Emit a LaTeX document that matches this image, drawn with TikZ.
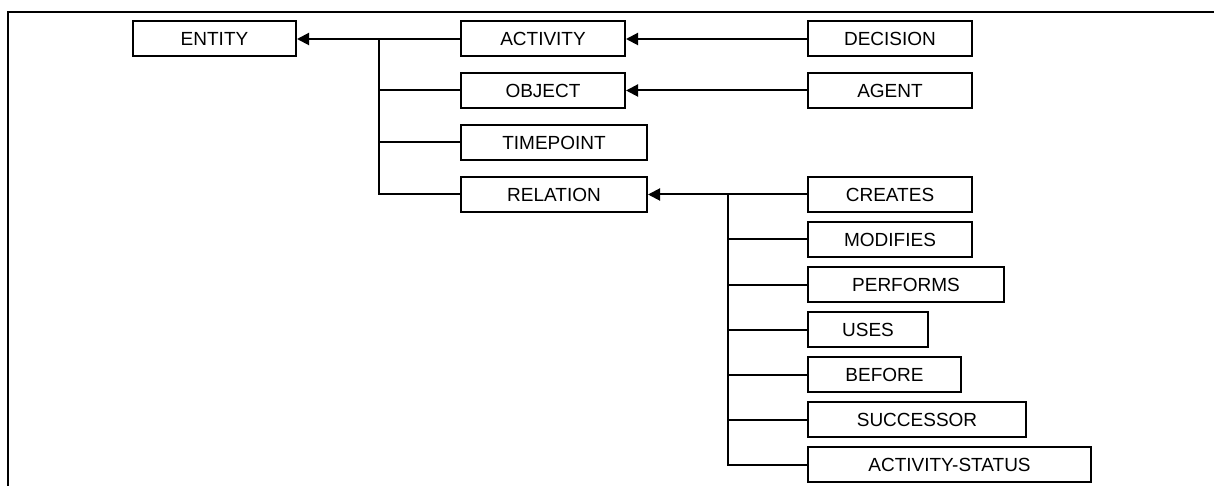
\documentclass[tikz,border=0pt]{standalone}
\usepackage{fontspec}
\setmainfont{Liberation Sans}
\usetikzlibrary{arrows.meta}
\begin{document}
\begin{tikzpicture}[x=1pt,y=-1pt,
  box/.style={draw=black,line width=2pt,fill=white,minimum height=35pt,inner sep=0pt,
    font=\fontsize{19}{21}\selectfont},
  conn/.style={line width=2pt},
  arrowconn/.style={line width=2pt,-{Triangle[length=12pt,width=12pt]}}]
\useasboundingbox (0,0) rectangle (1214,486);
% frame
\draw[line width=2pt] (8,486) -- (8,12) -- (1214,12);
% nodes
\node[box,minimum width=163pt] (entity) at (214.5,39) {ENTITY};
\node[box,minimum width=164pt] (activity) at (543,39) {ACTIVITY};
\node[box,minimum width=164pt] (object) at (543,90.5) {OBJECT};
\node[box,minimum width=186pt] (timepoint) at (554,142.5) {TIMEPOINT};
\node[box,minimum width=186pt] (relation) at (554,194.5) {RELATION};
\node[box,minimum width=164pt] (decision) at (890,39) {DECISION};
\node[box,minimum width=164pt] (agent) at (890,90.5) {AGENT};
\node[box,minimum width=164pt] (creates) at (890,194.5) {CREATES};
\node[box,minimum width=164pt] (modifies) at (890,239.5) {MODIFIES};
\node[box,minimum width=196pt] (performs) at (906,284.5) {PERFORMS};
\node[box,minimum width=120pt] (uses) at (868,329.5) {USES};
\node[box,minimum width=153pt] (before) at (884.5,374.5) {BEFORE};
\node[box,minimum width=218pt] (successor) at (917,419.5) {SUCCESSOR};
\node[box,minimum width=283pt] (status) at (949.5,464.5) {ACTIVITY-STATUS};
% junction columns
\coordinate (j) at (379,0);
\coordinate (k) at (728,0);
% entity subtree
\draw[conn] (activity.west) -- (activity.west -| j);
\draw[arrowconn] (activity.west -| j) -- (entity.east);
\draw[conn] (activity.west -| j) -- (relation.west -| j) -- (relation.west);
\draw[conn] (object.west) -- (object.west -| j);
\draw[conn] (timepoint.west) -- (timepoint.west -| j);
% activity / object subclasses
\draw[arrowconn] (decision.west) -- (activity.east);
\draw[arrowconn] (agent.west) -- (object.east);
% relation subtree
\draw[arrowconn] (creates.west) -- (relation.east);
\draw[conn] (creates.west -| k) -- (status.west -| k) -- (status.west);
\draw[conn] (modifies.west) -- (modifies.west -| k);
\draw[conn] (performs.west) -- (performs.west -| k);
\draw[conn] (uses.west) -- (uses.west -| k);
\draw[conn] (before.west) -- (before.west -| k);
\draw[conn] (successor.west) -- (successor.west -| k);
\end{tikzpicture}
\end{document}
